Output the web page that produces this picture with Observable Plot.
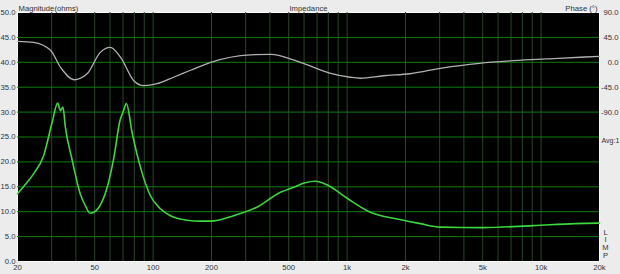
<!DOCTYPE html>
<html>
<head>
<meta charset="utf-8">
<script src="https://cdn.jsdelivr.net/npm/d3@7"></script>
<script src="https://cdn.jsdelivr.net/npm/@observablehq/plot@0.6"></script>
<style>
  html, body { margin: 0; padding: 0; background: #ececec; overflow: hidden; }
  svg { display: block; }
</style>
</head>
<body>
<div id="chart"></div>
<script>
// Magnitude (ohms) vs frequency (Hz)
const magFreq = [20, 22, 24.2, 27.3, 30.2, 32.2, 33.3, 34.3, 35.3, 38.3, 42.1, 45, 47.3, 49.5, 52.6, 58, 62.8, 67.5, 70, 72.8, 78.2, 86.1, 96.9, 109, 123, 150, 175, 198, 260, 343, 453, 529, 608, 686, 787, 1000, 1317, 1894, 2388, 3020, 5000, 9100, 15000, 20000];
const magOhm  = [13.6, 15.5, 17.6, 21.3, 28.0, 31.8, 30.3, 31.0, 27.0, 20.3, 13.6, 11.0, 9.7, 9.9, 10.9, 14.9, 20.9, 28.3, 30.0, 31.7, 25.6, 18.9, 13.2, 10.6, 9.2, 8.3, 8.1, 8.1, 9.2, 10.9, 13.9, 14.9, 15.8, 16.1, 15.4, 12.7, 9.9, 8.4, 7.6, 6.9, 6.8, 7.2, 7.6, 7.7];

// Phase (degrees) vs frequency (Hz)
const phaseFreq = [20, 24.2, 29.6, 33.3, 39.1, 45.7, 53.4, 60.2, 68, 79.5, 89.6, 105, 127.5, 156, 198, 318, 403, 574, 823, 1039, 1169, 1541, 2114, 3130, 4810, 7700, 12300, 20000];
const phaseDeg  = [37.8, 36.0, 21.6, -9.0, -31.5, -20.7, 18.0, 27.0, 9.0, -33.3, -42.3, -38.7, -27.0, -14.4, 0.0, 13.5, 14.4, 0.0, -19.8, -27.0, -28.8, -24.3, -20.7, -9.9, -1.8, 3.6, 7.2, 10.8];

// Axis ticks
const magTicks = [0, 5, 10, 15, 20, 25, 30, 35, 40, 45, 50];
const magGrid = [5, 10, 15, 20, 25, 30, 35, 40, 45];
const phaseTicks = [90, 45, 0, -45, -90];
const freqTicks = [20, 50, 100, 200, 500, 1000, 2000, 5000, 10000, 20000];
const freqLabels = ["20", "50", "100", "200", "500", "1k", "2k", "5k", "10k", "20k"];
const gridFreqs = [30, 40, 50, 60, 70, 80, 90, 100, 200, 300, 400, 500, 600, 700, 800, 900, 1000, 2000, 3000, 4000, 5000, 6000, 7000, 8000, 9000, 10000];

// phase axis shares the grid: 90° ↔ 50 Ω, 0° ↔ 40 Ω
const phaseToMag = p => 40 + p / 9;
const magToPhase = m => (m - 40) * 9;

const magData = magFreq.map((f, i) => ({f, v: magOhm[i]}));
const phaseData = phaseFreq.map((f, i) => ({f, v: phaseToMag(phaseDeg[i])}));
const freqTickData = freqTicks.map((f, i) => ({f, label: freqLabels[i]}));

const font = "Liberation Sans, Arial, sans-serif";

const chart = Plot.plot({
  width: 620,
  height: 274,
  marginLeft: 17,
  marginRight: 21,
  marginTop: 12,
  marginBottom: 13,
  style: {background: "#ececec", fontFamily: font, fontSize: "7.7px", color: "#333"},
  x: {type: "log", domain: [20, 20000], axis: null},
  y: {domain: [0, 50], axis: null},
  marks: [
    Plot.frame({fill: "black", stroke: "#fafafa", strokeWidth: 1}),
    Plot.ruleX(gridFreqs, {stroke: "#2a462a", strokeWidth: 1}),
    Plot.ruleY(magGrid, {stroke: "#0a7d0a", strokeWidth: 1}),
    Plot.line(phaseData, {x: "f", y: "v", stroke: "#b0b0b0", strokeWidth: 1.3, curve: "monotone-x"}),
    Plot.line(magData, {x: "f", y: "v", stroke: "#3ad83a", strokeWidth: 1.6, curve: "monotone-x"}),
    Plot.axisY(magTicks, {anchor: "left", tickSize: 0, tickPadding: 2, tickFormat: d => d.toFixed(1), label: null, fill: "#333"}),
    Plot.axisY(phaseTicks.map(phaseToMag), {anchor: "right", tickSize: 0, tickPadding: 0, textAnchor: "end", dx: 19, tickFormat: d => magToPhase(d).toFixed(1), label: null, fill: "#333"}),
    Plot.text(freqTickData, {x: "f", text: "label", frameAnchor: "bottom", lineAnchor: "top", dy: 3, fill: "#333", fontSize: 7.7}),
    Plot.text(["Magnitude(ohms)"], {frameAnchor: "top-left", textAnchor: "start", lineAnchor: "bottom", dx: 1, dy: -2, fill: "#333", fontSize: 7.7}),
    Plot.text(["Impedance"], {frameAnchor: "top", lineAnchor: "bottom", dy: -2, fill: "#333", fontSize: 7.7}),
    Plot.text(["Phase (°)"], {frameAnchor: "top-right", textAnchor: "end", lineAnchor: "bottom", dx: -2, dy: -2, fill: "#333", fontSize: 7.7}),
    Plot.text(["Avg:1"], {frameAnchor: "right", textAnchor: "start", dx: 2, dy: 4, fill: "#333", fontSize: 7}),
    Plot.text(["L\nI\nM\nP"], {frameAnchor: "bottom-right", textAnchor: "middle", lineAnchor: "bottom", dx: 6, dy: -4, lineHeight: 1, fill: "#333", fontSize: 7.6})
  ]
});
document.getElementById("chart").appendChild(chart);
</script>
</body>
</html>
